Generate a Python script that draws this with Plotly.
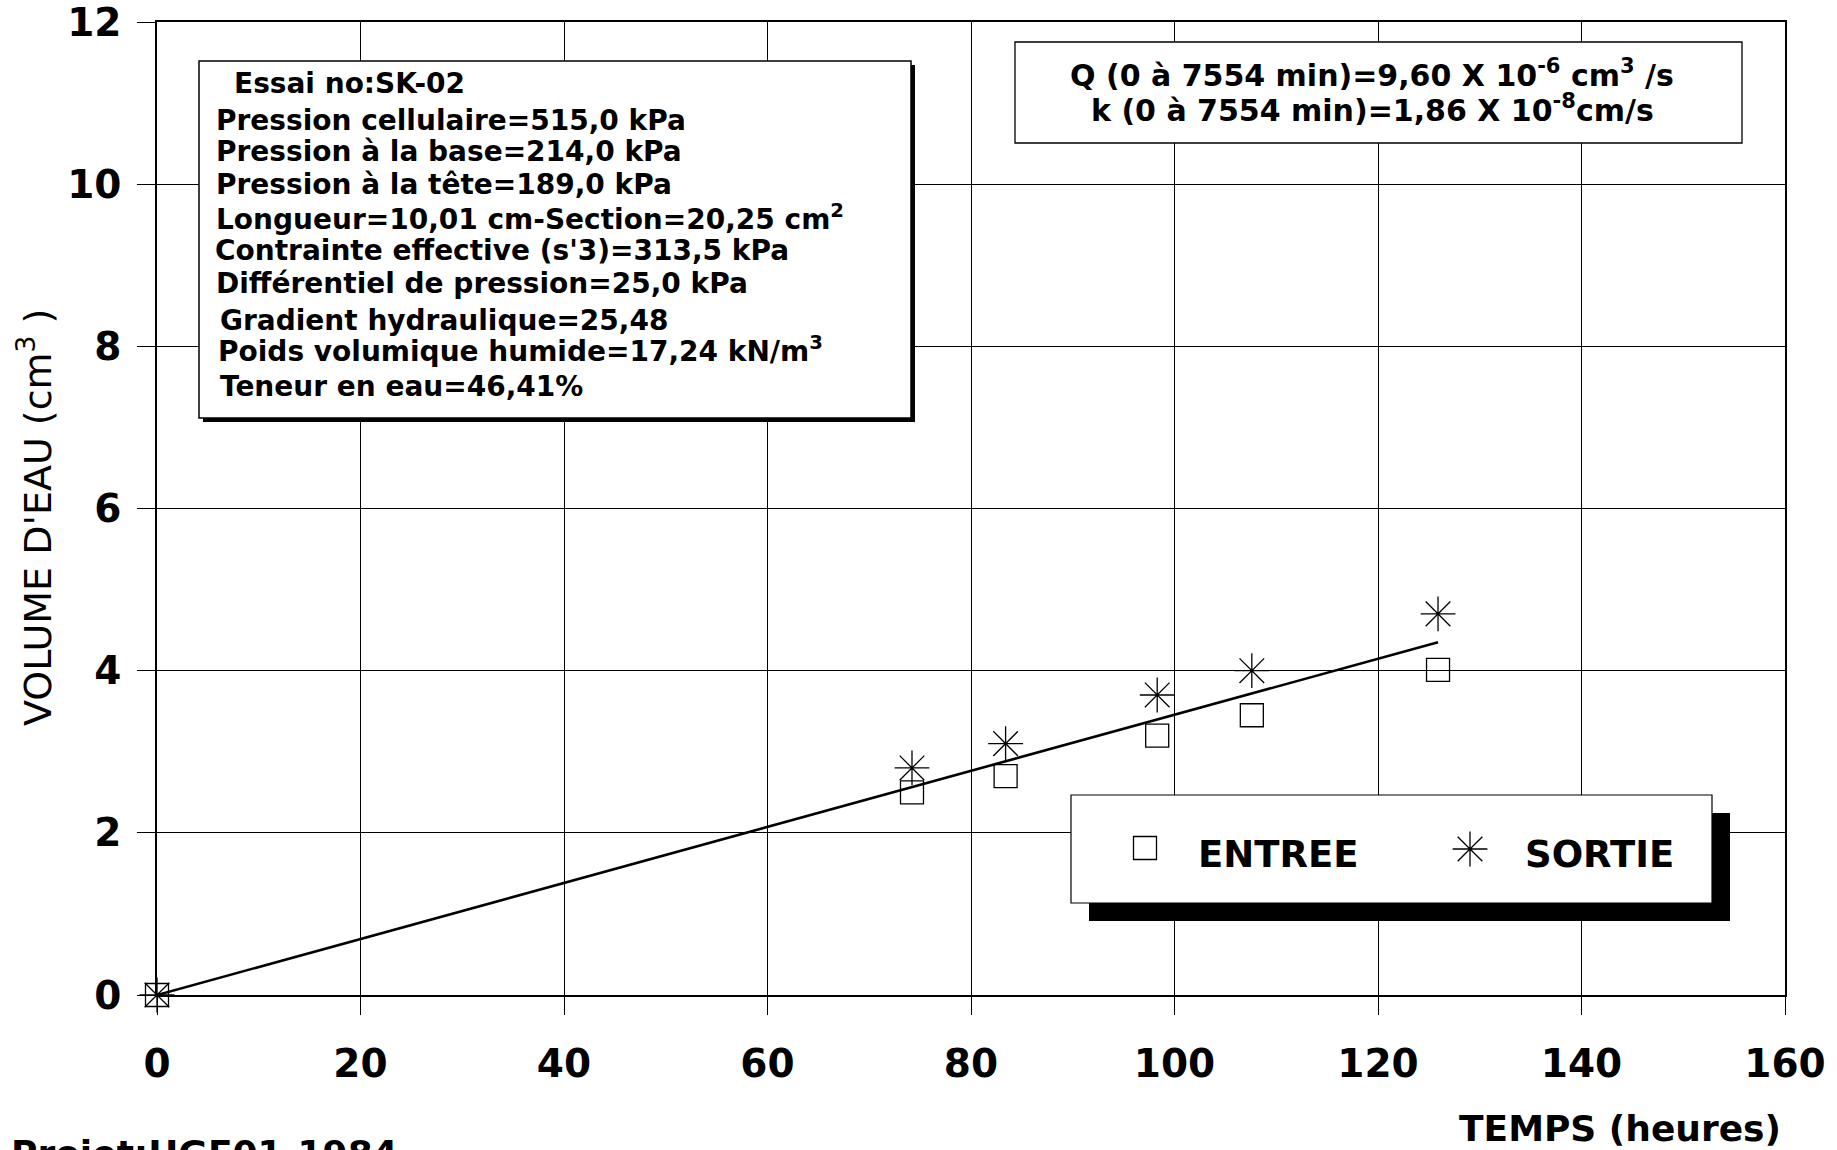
import plotly.graph_objects as go

# Essai de perméabilité SK-02 : volume d'eau cumulé (cm³) en fonction du temps (h)
temps_h = [0, 74.2, 83.4, 98.3, 107.6, 125.9]
volume_entree = [0, 2.50, 2.70, 3.20, 3.45, 4.01]
volume_sortie = [0, 2.80, 3.10, 3.70, 4.00, 4.70]

# Débit ajusté Q sur l'intervalle 0 à 7554 min
q_cm3_s = 9.60e-6
fit_end_min = 7554
fit_temps_h = [0, fit_end_min / 60]
fit_volume = [0, q_cm3_s * fit_end_min * 60]

x_ticks = [0, 20, 40, 60, 80, 100, 120, 140, 160]
y_ticks = [0, 2, 4, 6, 8, 10, 12]

info_lines = [
    "Essai no:SK-02",
    "Pression cellulaire=515,0 kPa",
    "Pression à la base=214,0 kPa",
    "Pression à la tête=189,0 kPa",
    "Longueur=10,01 cm-Section=20,25 cm<sup>2</sup>",
    "Contrainte effective (s'3)=313,5 kPa",
    "Différentiel de pression=25,0 kPa",
    "Gradient hydraulique=25,48",
    "Poids volumique humide=17,24 kN/m<sup>3</sup>",
    "Teneur en eau=46,41%",
]
q_lines = [
    "Q (0 à 7554 min)=9,60 X 10<sup>-6</sup> cm<sup>3</sup> /s",
    "k (0 à 7554 min)=1,86 X 10<sup>-8</sup>cm/s",
]
legend_labels = ["ENTREE", "SORTIE"]

# ---- page geometry (pixels) ----
W, H = 1837, 1150
ML, MR, MT, MB = 157, 52, 22, 155
PW, PH = W - ML - MR, H - MT - MB
X_RANGE = (0, 160)
Y_RANGE = (0, 12)
FONT = "DejaVu Sans"


def pxx(px):
    return (px - ML) / PW


def pxy(py):
    return (H - MB - py) / PH


def dx(px):
    return X_RANGE[0] + pxx(px) * (X_RANGE[1] - X_RANGE[0])


def dy(py):
    return Y_RANGE[0] + pxy(py) * (Y_RANGE[1] - Y_RANGE[0])


SQUARE_SIZE = 23
STAR_SIZE = 29

fig = go.Figure()

# fitted flow line
fig.add_trace(go.Scatter(
    x=fit_temps_h, y=fit_volume, mode="lines",
    line=dict(color="black", width=2.6), showlegend=False, hoverinfo="skip",
))
# measured volumes
fig.add_trace(go.Scatter(
    x=temps_h, y=volume_entree, mode="markers", name=legend_labels[0],
    marker=dict(symbol="square-open", size=SQUARE_SIZE, color="black",
                line=dict(color="black", width=1.3)),
    cliponaxis=False, showlegend=False,
))
fig.add_trace(go.Scatter(
    x=temps_h, y=volume_sortie, mode="markers", name=legend_labels[1],
    marker=dict(symbol="asterisk-open", size=STAR_SIZE, color="black",
                line=dict(color="black", width=1.3)),
    cliponaxis=False, showlegend=False,
))

# legend keys drawn inside the framed legend box
key_px = [(1145, 848), (1470, 849)]
key_symbols = ["square-open", "asterisk-open"]
key_sizes = [SQUARE_SIZE, STAR_SIZE]
for (kx, ky), sym, sz in zip(key_px, key_symbols, key_sizes):
    fig.add_trace(go.Scatter(
        x=[dx(kx)], y=[dy(ky)], mode="markers",
        marker=dict(symbol=sym, size=sz, color="black",
                    line=dict(color="black", width=1.3)),
        showlegend=False, hoverinfo="skip",
    ))


def box(x0, y0, x1, y1, shadow=0, lw=1.3):
    if shadow:
        fig.add_shape(type="rect", xref="x", yref="y", layer="between",
                      x0=dx(x0 + shadow), x1=dx(x1 + shadow),
                      y0=dy(y0 + shadow), y1=dy(y1 + shadow),
                      fillcolor="black", line=dict(width=0))
    fig.add_shape(type="rect", xref="x", yref="y", layer="between",
                  x0=dx(x0), x1=dx(x1), y0=dy(y0), y1=dy(y1),
                  fillcolor="white", line=dict(color="black", width=lw))


box(199, 61, 911, 418, shadow=4, lw=1.5)
box(1015, 42, 1742, 143, lw=1.3)
box(1071, 795, 1712, 903, shadow=18, lw=1.2)


def text(s, px, py, size, xanchor="left", yanchor="middle", bold=False, angle=0):
    fig.add_annotation(
        text=s, xref="paper", yref="paper", x=pxx(px), y=pxy(py),
        xanchor=xanchor, yanchor=yanchor, showarrow=False, textangle=angle,
        font=dict(family=FONT, size=size, color="black",
                  weight="bold" if bold else "normal"),
    )


info_pos = [(232, 84), (214, 120), (214, 152), (214, 185), (214, 217),
            (213, 250), (214, 284), (218, 320), (216, 350), (218, 387)]
for s, (px, py) in zip(info_lines, info_pos):
    text(s, px, py, 28, bold=True)

text(q_lines[0], 1372, 73, 30, xanchor="center", bold=True)
text(q_lines[1], 1372, 109, 30, xanchor="center", bold=True)

text(legend_labels[0], 1196, 854, 37, bold=True)
text(legend_labels[1], 1523, 854, 37, bold=True)

text("VOLUME D'EAU (cm<sup>3</sup> )", 35, 518, 38, xanchor="center", angle=-90)
text("TEMPS (heures)", 1783, 1128, 36, xanchor="right", bold=True)
text("Projet:HGF01-1984", 9, 1153, 36, bold=True)

axis_common = dict(
    showgrid=True, gridcolor="black", gridwidth=1,
    showline=True, linecolor="black", linewidth=1.5, mirror=True,
    ticks="outside", ticklen=18, tickwidth=1, tickcolor="black",
    zeroline=False, ticklabeloverflow="allow", automargin=False,
    tickfont=dict(family=FONT, size=39, color="black", weight="bold"),
)
fig.update_xaxes(range=list(X_RANGE), tickvals=x_ticks, ticklabelstandoff=15,
                 **axis_common)
fig.update_yaxes(range=list(Y_RANGE), tickvals=y_ticks, ticklabelstandoff=8,
                 **axis_common)

fig.update_layout(
    width=W, height=H, autosize=False,
    margin=dict(l=ML, r=MR, t=MT, b=MB, pad=0, autoexpand=False),
    paper_bgcolor="white", plot_bgcolor="white",
    showlegend=False,
)

fig.write_html("out.html")
